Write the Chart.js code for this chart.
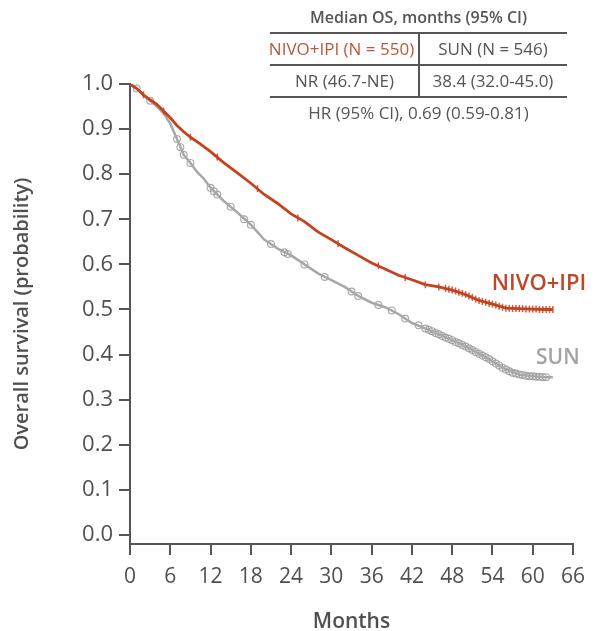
<!DOCTYPE html>
<html>
<head>
<meta charset="utf-8">
<script src="https://cdn.jsdelivr.net/npm/chart.js@4.4.1/dist/chart.umd.min.js"></script>
<style>
  html, body { margin: 0; padding: 0; background: #fff; }
  #wrap { position: relative; width: 594px; height: 631px; }
  #osChart { position: absolute; left: 0; top: 0; }
  .median-table { position: absolute; left: 270px; top: 0; width: 297px; font-family: "Open Sans", sans-serif; color: #555; font-size: 17px; }
  .median-table .ttl { position: absolute; left: 0; width: 297px; top: 6px; text-align: center; font-weight: 600; font-size: 16px; }
  .median-table .hl { position: absolute; left: 0; width: 297px; height: 2px; background: #555; }
  .median-table .vl { position: absolute; left: 148px; top: 33px; width: 1.5px; height: 64px; background: #555; }
  .median-table .cell { position: absolute; text-align: center; white-space: nowrap; }
  .median-table .nivo { color: #b9583e; }
</style>
</head>
<body>
<div id="wrap">
  <canvas id="osChart" width="594" height="631"></canvas>
  <div class="median-table">
    <div class="ttl">Median OS, months (95% CI)</div>
    <div class="hl" style="top:32px"></div>
    <div class="cell nivo" style="left:-3px;width:149px;top:37px">NIVO+IPI (N = 550)</div>
    <div class="cell" style="left:149px;width:148px;top:37px">SUN (N = 546)</div>
    <div class="hl" style="top:64px"></div>
    <div class="cell" style="left:0;width:149px;top:69px">NR (46.7-NE)</div>
    <div class="cell" style="left:149px;width:148px;top:69px">38.4 (32.0-45.0)</div>
    <div class="hl" style="top:96px"></div>
    <div class="cell" style="left:0;width:297px;top:101px">HR (95% CI), 0.69 (0.59-0.81)</div>
    <div class="vl"></div>
  </div>
</div>
<script>
// ticks
const monthTicks = [0, 6, 12, 18, 24, 30, 36, 42, 48, 54, 60, 66];
const probTicks = [0, 0.1, 0.2, 0.3, 0.4, 0.5, 0.6, 0.7, 0.8, 0.9, 1.0];

// NIVO+IPI curve
const nivoMonths = [0, 1, 2, 3, 4, 5, 6, 7, 8, 9, 10, 11, 12, 14, 16, 18, 20, 22, 24, 26, 28, 30, 32, 34, 36, 38, 40, 42, 44, 46, 48, 50, 52, 54, 56, 58, 60, 62, 63];
const nivoSurv = [1.0, 0.99, 0.976, 0.965, 0.955, 0.94, 0.925, 0.908, 0.894, 0.882, 0.872, 0.861, 0.85, 0.825, 0.803, 0.78, 0.755, 0.735, 0.712, 0.695, 0.672, 0.655, 0.637, 0.62, 0.603, 0.59, 0.576, 0.566, 0.555, 0.55, 0.543, 0.533, 0.52, 0.512, 0.503, 0.502, 0.501, 0.5, 0.5];

// SUN curve
const sunMonths = [0, 1, 2, 3, 4, 5, 6, 7, 8, 9, 10, 11, 12, 14, 16, 18, 20, 22, 24, 26, 28, 30, 32, 34, 36, 38, 40, 42, 44, 46, 48, 50, 52, 54, 56, 58, 60, 62, 63];
const sunSurv = [1.0, 0.99, 0.976, 0.963, 0.95, 0.935, 0.912, 0.878, 0.843, 0.825, 0.805, 0.79, 0.77, 0.74, 0.715, 0.688, 0.655, 0.635, 0.62, 0.6, 0.58, 0.565, 0.55, 0.53, 0.515, 0.505, 0.49, 0.47, 0.458, 0.445, 0.432, 0.418, 0.402, 0.385, 0.367, 0.356, 0.352, 0.35, 0.35];

// censored patients (marks)
const nivoCensorMonths = [2, 5, 9, 13, 19, 25, 31, 37, 41, 44, 46, 47, 47.5, 48, 48.5, 49, 49.5, 50, 50.5, 51, 51.5, 52, 52.5, 53, 53.5, 54, 54.5, 55, 55.5, 56, 56.5, 57, 57.5, 58, 58.5, 59, 59.5, 60, 60.5, 61, 61.5, 62, 62.5, 63];
const nivoCensorSurv = [0.976, 0.94, 0.882, 0.838, 0.768, 0.703, 0.646, 0.597, 0.571, 0.555, 0.55, 0.547, 0.545, 0.543, 0.541, 0.538, 0.536, 0.533, 0.53, 0.527, 0.523, 0.52, 0.518, 0.516, 0.514, 0.512, 0.51, 0.507, 0.505, 0.503, 0.503, 0.502, 0.502, 0.502, 0.502, 0.501, 0.501, 0.501, 0.501, 0.5, 0.5, 0.5, 0.5, 0.5];
const sunCensorMonths = [1, 3, 7, 7.5, 8, 9, 12, 12.5, 13, 15, 17, 18, 21, 23, 23.5, 26, 29, 33, 34, 37, 39, 41, 43, 44, 44.5, 45, 45.5, 46, 46.5, 47, 47.5, 48, 48.5, 49, 49.5, 50, 50.5, 51, 51.5, 52, 52.5, 53, 53.5, 54, 54.5, 55, 55.5, 56, 56.5, 57, 57.5, 58, 58.5, 59, 59.5, 60, 60.5, 61, 61.5, 62];
const sunCensorSurv = [0.99, 0.963, 0.878, 0.86, 0.843, 0.825, 0.77, 0.762, 0.755, 0.728, 0.7, 0.688, 0.645, 0.627, 0.623, 0.6, 0.572, 0.54, 0.53, 0.51, 0.498, 0.48, 0.465, 0.458, 0.455, 0.452, 0.448, 0.445, 0.441, 0.438, 0.435, 0.432, 0.428, 0.425, 0.421, 0.418, 0.414, 0.41, 0.406, 0.402, 0.398, 0.394, 0.39, 0.385, 0.38, 0.376, 0.371, 0.367, 0.363, 0.36, 0.358, 0.356, 0.355, 0.353, 0.352, 0.352, 0.351, 0.351, 0.35, 0.35];

const nivoColor = '#c4421f';
const sunColor = '#a8a8a8';
const axisColor = '#555';
const textColor = '#505050';

const toPoints = (xs, ys) => xs.map((x, i) => ({ x: x, y: ys[i] }));

// curve end labels
const curveLabels = [
    { text: 'NIVO+IPI', x: 53.9, y: 0.557, color: '#c0482a', size: 22 },
    { text: 'SUN', x: 60.5, y: 0.392, color: '#a3a3a3', size: 21 }
];

const curveLabelPlugin = {
    id: 'curveLabels',
    afterDatasetsDraw(chart) {
        const c = chart.ctx;
        const xs = chart.scales.x, ys = chart.scales.y;
        c.save();
        c.textAlign = 'left';
        c.textBaseline = 'middle';
        curveLabels.forEach(l => {
            c.font = '600 ' + l.size + 'px "Open Sans", sans-serif';
            c.fillStyle = l.color;
            c.fillText(l.text, xs.getPixelForValue(l.x), ys.getPixelForValue(l.y));
        });
        c.restore();
    }
};

const ctx = document.getElementById('osChart').getContext('2d');

new Chart(ctx, {
    type: 'line',
    data: {
        datasets: [
            {
                label: 'NIVO+IPI',
                data: toPoints(nivoMonths, nivoSurv),
                borderColor: nivoColor,
                borderWidth: 2.8,
                pointRadius: 0,
                tension: 0
            },
            {
                label: 'NIVO+IPI censored',
                data: toPoints(nivoCensorMonths, nivoCensorSurv),
                showLine: false,
                pointStyle: 'line',
                rotation: 90,
                pointRadius: 3.5,
                pointBorderWidth: 1.5,
                pointBorderColor: 'rgba(196,66,31,0.85)'
            },
            {
                label: 'SUN',
                data: toPoints(sunMonths, sunSurv),
                borderColor: sunColor,
                borderWidth: 2.5,
                pointRadius: 0,
                tension: 0
            },
            {
                label: 'SUN censored',
                data: toPoints(sunCensorMonths, sunCensorSurv),
                showLine: false,
                pointStyle: 'circle',
                pointRadius: 3.4,
                pointBorderWidth: 1.2,
                pointBorderColor: 'rgba(150,150,150,0.8)',
                pointBackgroundColor: 'rgba(255,255,255,0)'
            }
        ]
    },
    options: {
        responsive: false,
        animation: false,
        layout: {
            padding: { top: 84, right: 17, left: 0, bottom: 0 }
        },
        plugins: {
            legend: { display: false },
            tooltip: { enabled: false }
        },
        scales: {
            x: {
                type: 'linear',
                min: 0,
                max: 66,
                afterBuildTicks: scale => { scale.ticks = monthTicks.map(v => ({ value: v })); },
                afterFit: scale => { scale.height = 87; },
                grid: { drawOnChartArea: false, color: axisColor, lineWidth: 2, tickLength: 11 },
                border: { color: axisColor, width: 2 },
                ticks: {
                    color: textColor,
                    padding: 9,
                    maxRotation: 0,
                    font: { family: '"Open Sans", sans-serif', size: 21 }
                },
                title: {
                    display: true,
                    text: 'Months',
                    color: textColor,
                    padding: { top: 0, bottom: -4 },
                    font: { family: '"Open Sans", sans-serif', size: 21, weight: '600' }
                }
            },
            y: {
                type: 'linear',
                min: -0.02,
                max: 1.0,
                afterBuildTicks: scale => { scale.ticks = probTicks.map(v => ({ value: v })); },
                afterFit: scale => { scale.width = 130; },
                grid: { drawOnChartArea: false, color: axisColor, lineWidth: 2, tickLength: 11 },
                border: { color: axisColor, width: 2 },
                ticks: {
                    color: textColor,
                    padding: 6,
                    callback: value => value.toFixed(1),
                    font: { family: '"Open Sans", sans-serif', size: 22 }
                },
                title: {
                    display: true,
                    text: 'Overall survival (probability)',
                    color: textColor,
                    padding: { top: 10, bottom: 0 },
                    font: { family: '"Open Sans", sans-serif', size: 20, weight: '600' }
                }
            }
        }
    },
    plugins: [curveLabelPlugin]
});
</script>
</body>
</html>
